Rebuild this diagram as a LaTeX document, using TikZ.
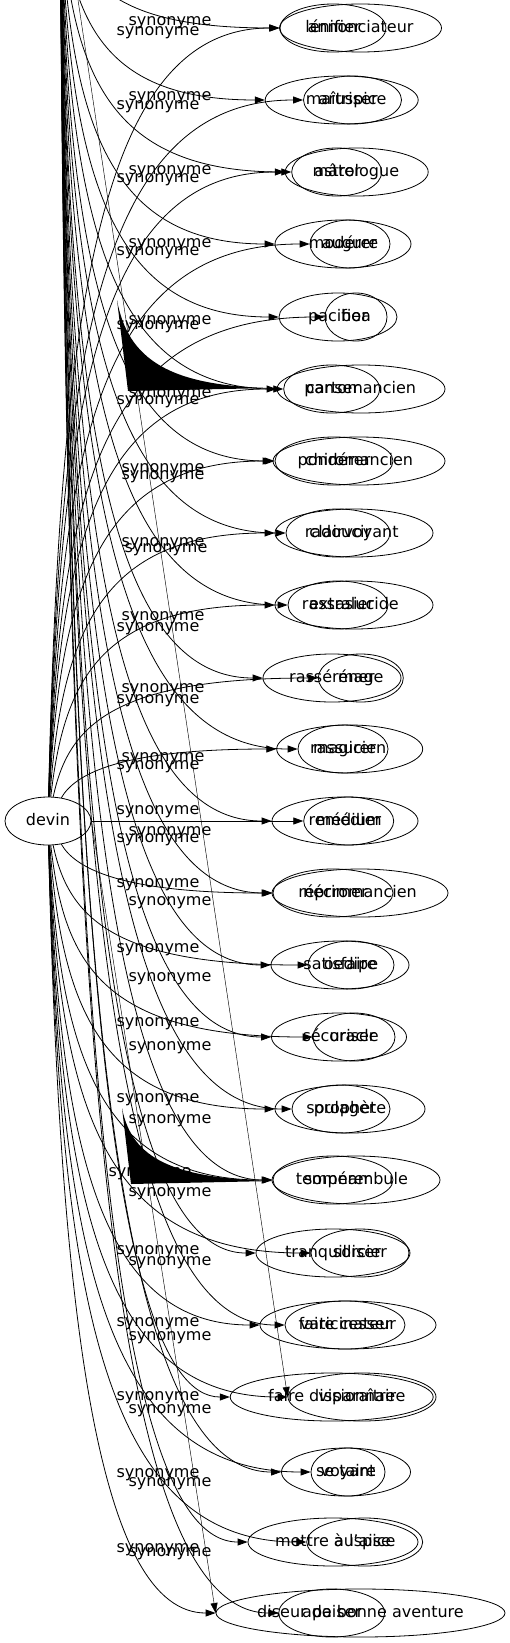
\documentclass[tikz,border=0pt]{standalone}
\usepackage{fontspec}
\setmainfont{DejaVu Sans}
\usetikzlibrary{shapes.geometric, arrows.meta}

\begin{document}
\begin{tikzpicture}[x=1pt, y=-1pt,
    word/.style={ellipse, draw, line width=0.8pt, inner sep=0pt, minimum height=48},
    lbl/.style={font=\fontsize{16}{18}\selectfont, inner sep=0pt, text height=12pt, text depth=3.5pt},
    every label/.append style={font=\fontsize{16}{18}\selectfont, inner sep=0pt, text height=12pt, text depth=3.5pt},
    line/.style={draw, line width=0.8pt, -{Triangle[length=10pt, width=7pt]}},
    long/.style={draw, line width=0.45pt, -{Triangle[length=10pt, width=7pt]}}]
    \clip (0,0) rectangle (510,1643);

    \coordinate (hub) at (60,-120);
    \node [word, minimum width=86, label=center:devin] (devin) at (48,821) {};

    % mots de la colonne
    \node [word, minimum width=162, label=center:annonciateur] (annonciateur) at (360.5,28) {};
    \node [word, minimum width=106, label=center:lénifier] (lenifier) at (333,28) {};
    \node [word, minimum width=153, label=center:maîtriser] (maitriser) at (341.7,100) {};
    \node [word, minimum width=98, label=center:aruspice] (aruspice) at (352.5,100) {};
    \node [word, minimum width=143, label=center:astrologue] (astrologue) at (356.7,172) {};
    \node [word, minimum width=90, label=center:mâter] (mater) at (336.7,172) {};
    \node [word, minimum width=136, label=center:modérer] (moderer) at (343,244) {};
    \node [word, minimum width=80, label=center:augure] (augure) at (350,244) {};
    \node [word, minimum width=118, label=center:pacifier] (pacifier) at (338,317) {};
    \node [word, minimum width=62, label=center:boa] (boa) at (356,317) {};
    \node [word, minimum width=168, label=center:cartomancien] (cartomancien) at (361,389) {};
    \node [word, minimum width=96, label=center:panser] (panser) at (331.7,389) {};
    \node [word, minimum width=172, label=center:chiromancien] (chiromancien) at (359,461) {};
    \node [word, minimum width=118, label=center:pondérer] (ponderer) at (334,461) {};
    \node [word, minimum width=158, label=center:clairvoyant] (clairvoyant) at (354,533) {};
    \node [word, minimum width=104, label=center:radoucir] (radoucir) at (338,533) {};
    \node [word, minimum width=158, label=center:extralucide] (extralucide) at (354,605) {};
    \node [word, minimum width=100, label=center:rassasier] (rassasier) at (338,605) {};
    \node [word, minimum width=138, label=center:rasséréner] (rassrener) at (332,678) {};
    \node [word, minimum width=85, label=center:mage] (mage) at (360.8,678) {};
    \node [word, minimum width=146, label=center:magicien] (magicien) at (349.7,749) {};
    \node [word, minimum width=90, label=center:rassurer] (rassurer) at (343,749) {};
    \node [word, minimum width=146, label=center:remédier] (remedier) at (345,821) {};
    \node [word, minimum width=90, label=center:médium] (medium) at (348.7,821) {};
    \node [word, minimum width=176, label=center:nécromancien] (necromancien) at (360,893) {};
    \node [word, minimum width=120, label=center:réprimer] (reprimer) at (333,893) {};
    \node [word, minimum width=138, label=center:satisfaire] (satisfaire) at (340,965) {};
    \node [word, minimum width=86, label=center:oedipe] (oedipe) at (351,965) {};
    \node [word, minimum width=135, label=center:sécuriser] (securiser) at (339,1037) {};
    \node [word, minimum width=82, label=center:oracle] (oracle) at (354,1037) {};
    \node [word, minimum width=150, label=center:prophète] (prophete) at (350,1109) {};
    \node [word, minimum width=98, label=center:soulager] (soulager) at (341,1109) {};
    \node [word, minimum width=168, label=center:somnambule] (somnambule) at (356,1180) {};
    \node [word, minimum width=120, label=center:tempérer] (temperer) at (333,1180) {};
    \node [word, minimum width=154, label=center:tranquilliser] (tranquilliser) at (333,1253) {};
    \node [word, minimum width=98, label=center:sorcier] (sorcier) at (360,1253) {};
    \node [word, minimum width=176, label=center:vaticinateur] (vaticinateur) at (348,1325) {};
    \node [word, minimum width=120, label=center:faire cesser] (cesser) at (345,1325) {};
    \node [word, minimum width=203, label=center:faire disparaître] (disparaitre) at (331.7,1397) {};
    \node [word, minimum width=148, label=center:visionnaire] (visionnaire) at (362,1397) {};
    \node [word, minimum width=129, label=center:se taire] (taire) at (346,1472) {};
    \node [word, minimum width=74, label=center:voyant] (voyant) at (348,1472) {};
    \node [word, minimum width=170, label=center:mettre à l'aise] (aise) at (333,1542) {};
    \node [word, minimum width=116, label=center:auspice] (auspice) at (364.7,1542) {};
    \node [word, minimum width=289, label=center:diseur de bonne aventure] (diseur) at (360.5,1613) {};
    \node [word, minimum width=106, label=center:apaiser] (apaiser) at (331.7,1613) {};

    % aretes depuis devin
    \path [line] (devin) .. controls (60,306) and (100,28) .. (annonciateur);
    \path [line] (devin) .. controls (60,352) and (100,100) .. (aruspice);
    \path [line] (devin) .. controls (60,399) and (100,172) .. (astrologue);
    \path [line] (devin) .. controls (60,446) and (100,244) .. (augure);
    \path [line] (devin) .. controls (60,493) and (100,317) .. (boa);
    \path [line] (devin) .. controls (60,540) and (100,389) .. (cartomancien);
    \path [line] (devin) .. controls (60,587) and (100,461) .. (chiromancien);
    \path [line] (devin) .. controls (62,634) and (100,533) .. (clairvoyant);
    \path [line] (devin) .. controls (64,681) and (100,605) .. (extralucide);
    \path [line] (devin) .. controls (68,728) and (110,678) .. (mage);
    \path [line] (devin) .. controls (75,774) and (120,749) .. (magicien);
    \path [line] (devin) -- (medium);
    \path [line] (devin) .. controls (75,868) and (120,893) .. (necromancien);
    \path [line] (devin) .. controls (68,915) and (110,965) .. (oedipe);
    \path [line] (devin) .. controls (64,961) and (100,1037) .. (oracle);
    \path [line] (devin) .. controls (62,1008) and (100,1109) .. (prophete);
    \path [line] (devin) .. controls (60,1055) and (100,1180) .. (somnambule);
    \path [line] (devin) .. controls (60,1102) and (100,1253) .. (sorcier);
    \path [line] (devin) .. controls (60,1149) and (100,1325) .. (vaticinateur);
    \path [line] (devin) .. controls (60,1195) and (100,1397) .. (visionnaire);
    \path [line] (devin) .. controls (60,1244) and (100,1472) .. (voyant);
    \path [line] (devin) .. controls (60,1290) and (100,1542) .. (auspice);
    \path [line] (devin) .. controls (60,1330) and (100,1613) .. (diseur);
    \path [long] (devin.east) -- (diseur.west);

    % aretes venant du haut
    \path [line] (hub) .. controls (66,-24) and (105,28) .. (lenifier);
    \path [line] (hub) .. controls (66,23) and (105,100) .. (maitriser);
    \path [line] (hub) .. controls (66,70) and (105,172) .. (mater);
    \path [line] (hub) .. controls (66,117) and (105,244) .. (moderer);
    \path [line] (hub) .. controls (66,164) and (105,317) .. (pacifier);
    \path [line] (hub) .. controls (66,211) and (105,389) .. (panser);
    \path [line] (hub) .. controls (66,258) and (105,461) .. (ponderer);
    \path [line] (hub) .. controls (66,304) and (105,533) .. (radoucir);
    \path [line] (hub) .. controls (66,351) and (105,605) .. (rassasier);
    \path [line] (hub) .. controls (66,399) and (105,678) .. (rassrener);
    \path [line] (hub) .. controls (66,445) and (105,749) .. (rassurer);
    \path [line] (hub) .. controls (66,492) and (105,821) .. (remedier);
    \path [line] (hub) .. controls (66,538) and (105,893) .. (reprimer);
    \path [line] (hub) .. controls (66,585) and (105,965) .. (satisfaire);
    \path [line] (hub) .. controls (66,632) and (105,1037) .. (securiser);
    \path [line] (hub) .. controls (66,679) and (105,1109) .. (soulager);
    \path [line] (hub) .. controls (66,725) and (105,1180) .. (temperer);
    \path [line] (hub) .. controls (66,772) and (105,1253) .. (tranquilliser);
    \path [line] (hub) .. controls (66,819) and (105,1325) .. (cesser);
    \path [line] (hub) .. controls (66,866) and (105,1397) .. (disparaitre);
    \path [line] (hub) .. controls (66,915) and (105,1472) .. (taire);
    \path [line] (hub) .. controls (66,960) and (105,1542) .. (aise);
    \path [line] (hub) .. controls (66,1006) and (105,1613) .. (apaiser);
    \path [long] (hub) -- (visionnaire.west);

    % taches noires
    \fill (117,300) .. controls (128,360) and (170,386) .. (272,388) -- (128,391) -- cycle;
    \fill (122,1108) .. controls (132,1160) and (175,1178) .. (272,1181) -- (131,1184) -- cycle;

    % etiquettes
    \node [lbl] (s1a) at (170,21) {synonyme};
    \node [lbl] (s1b) at (158,31) {synonyme};
    \node [lbl] (s2a) at (170,96) {synonyme};
    \node [lbl] (s2b) at (158,105) {synonyme};
    \node [lbl] (s3a) at (170,170) {synonyme};
    \node [lbl] (s3b) at (158,178) {synonyme};
    \node [lbl] (s4a) at (170,243) {synonyme};
    \node [lbl] (s4b) at (158,251) {synonyme};
    \node [lbl] (s5a) at (170,320) {synonyme};
    \node [lbl] (s5b) at (158,325) {synonyme};
    \node [lbl] (s6a) at (170,393) {synonyme};
    \node [lbl] (s6b) at (158,400) {synonyme};
    \node [lbl] (s7a) at (163,468) {synonyme};
    \node [lbl] (s7b) at (163,475) {synonyme};
    \node [lbl] (s8a) at (163,542) {synonyme};
    \node [lbl] (s8b) at (166,548) {synonyme};
    \node [lbl] (s9a) at (163,616) {synonyme};
    \node [lbl] (s9b) at (158,627) {synonyme};
    \node [lbl] (s10a) at (163,688) {synonyme};
    \node [lbl] (s10b) at (158,699) {synonyme};
    \node [lbl] (s11a) at (163,757) {synonyme};
    \node [lbl] (s11b) at (158,765) {synonyme};
    \node [lbl] (s12a) at (158,810) {synonyme};
    \node [lbl] (s12b) at (170,831) {synonyme};
    \node [lbl] (s12c) at (158,838) {synonyme};
    \node [lbl] (s13a) at (158,883) {synonyme};
    \node [lbl] (s13b) at (170,901) {synonyme};
    \node [lbl] (s14a) at (158,948) {synonyme};
    \node [lbl] (s14b) at (170,977) {synonyme};
    \node [lbl] (s15a) at (158,1022) {synonyme};
    \node [lbl] (s15b) at (170,1046) {synonyme};
    \node [lbl] (s16a) at (158,1098) {synonyme};
    \node [lbl] (s16b) at (170,1119) {synonyme};
    \node [lbl] (s17a) at (150,1172) {synonyme};
    \node [lbl] (s17b) at (170,1192) {synonyme};
    \node [lbl] (s18a) at (158,1250) {synonyme};
    \node [lbl] (s18b) at (170,1261) {synonyme};
    \node [lbl] (s19a) at (158,1322) {synonyme};
    \node [lbl] (s19b) at (170,1336) {synonyme};
    \node [lbl] (s20a) at (158,1396) {synonyme};
    \node [lbl] (s20b) at (170,1409) {synonyme};
    \node [lbl] (s21a) at (158,1473) {synonyme};
    \node [lbl] (s21b) at (170,1482) {synonyme};
    \node [lbl] (s22a) at (158,1548) {synonyme};
    \node [lbl] (s22b) at (170,1552) {synonyme};
\end{tikzpicture}
\end{document}
